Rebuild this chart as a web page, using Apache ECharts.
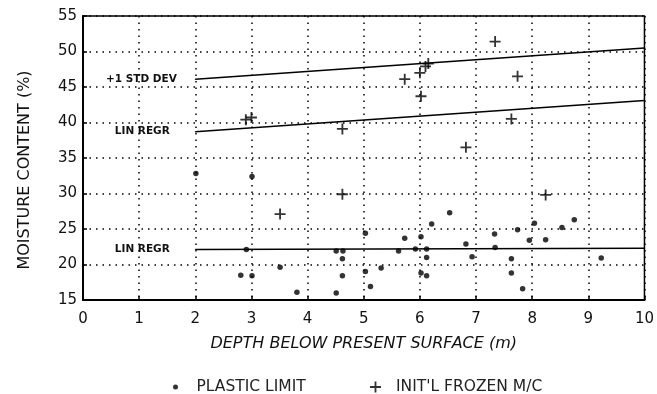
<!DOCTYPE html>
<html>
<head>
<meta charset="utf-8">
<script src="https://cdn.jsdelivr.net/npm/echarts@6/dist/echarts.min.js"></script>
<style>
  html, body { margin: 0; background: #fff; }
  #chart { width: 657px; height: 394px; }
</style>
</head>
<body>
<div id="chart"></div>
<script>
// depth (m), moisture content (%)
const plasticLimit = [
  [2.01, 32.8], [3.01, 32.4], [2.91, 22.1], [2.81, 18.5], [3.01, 18.4],
  [3.51, 19.6], [3.81, 16.1], [4.51, 16.0], [4.51, 21.9], [4.63, 21.9],
  [4.62, 20.8], [4.62, 18.4], [5.03, 24.4], [5.03, 19.0], [5.12, 16.9],
  [5.31, 19.5], [5.62, 21.9], [5.73, 23.7], [5.92, 22.2], [6.02, 23.9],
  [6.02, 18.8], [6.12, 22.2], [6.12, 21.0], [6.12, 18.4], [6.21, 25.7],
  [6.53, 27.3], [6.82, 22.9], [6.93, 21.1], [7.33, 24.3], [7.34, 22.4],
  [7.63, 20.8], [7.63, 18.8], [7.74, 24.9], [7.83, 16.6], [7.95, 23.4],
  [8.04, 25.8], [8.24, 23.5], [8.53, 25.2], [8.75, 26.3], [9.23, 20.9]
];
const frozenMC = [
  [2.9, 40.4], [3.0, 40.7], [4.62, 39.1], [7.34, 51.4], [6.0, 47.0],
  [6.1, 47.9], [6.15, 48.3], [5.73, 46.1], [7.74, 46.5], [6.02, 43.7],
  [7.63, 40.5], [6.82, 36.5], [3.51, 27.1], [4.62, 29.9], [8.24, 29.8]
];
const stdDevLine = [[2, 46.1], [10, 50.5]];
const upperRegr = [[2, 38.7], [10, 43.1]];
const lowerRegr = [[2, 22.1], [10, 22.3]];
const xTicks = [0, 1, 2, 3, 4, 5, 6, 7, 8, 9, 10];
const yTicks = [15, 20, 25, 30, 35, 40, 45, 50, 55];

const FONT = 'DejaVu Sans';
const plusIcon = 'path://M5,0H7V5H12V7H7V12H5V7H0V5H5Z';
const labelFont = { color: '#111', fontFamily: FONT, fontWeight: 'bold', fontSize: 10.5 };

function lineSeries(name, pts, text, dist) {
  return {
    name: name,
    type: 'line',
    data: pts.map((p, i) => i === 0 ? {
      value: p,
      label: Object.assign({ show: true, position: 'left', distance: dist, formatter: text }, labelFont)
    } : p),
    symbol: 'circle',
    symbolSize: 1,
    showSymbol: true,
    itemStyle: { color: '#000' },
    lineStyle: { color: '#000', width: 1.5 },
    silent: true,
    z: 3
  };
}

const chart = echarts.init(document.getElementById('chart'));
chart.setOption({
  animation: false,
  backgroundColor: '#fff',
  textStyle: { fontFamily: FONT },
  grid: { left: 83, right: 11, top: 16, bottom: 94, show: true, borderColor: '#000', borderWidth: 1.5 },
  legend: [
    {
      data: [{ name: 'PLASTIC LIMIT', icon: 'circle' }],
      left: 168, top: 374, itemWidth: 28, itemHeight: 5,
      textStyle: { fontSize: 15.5, color: '#222', padding: [0, 0, 0, 2] }
    },
    {
      data: [{ name: "INIT'L FROZEN M/C", icon: plusIcon }],
      left: 365, top: 374, itemWidth: 11, itemHeight: 11,
      textStyle: { fontSize: 15.5, color: '#222', padding: [0, 0, 0, 10] }
    }
  ],
  xAxis: {
    type: 'value',
    min: xTicks[0], max: xTicks[xTicks.length - 1], interval: 1,
    name: 'DEPTH BELOW PRESENT SURFACE (m)',
    nameLocation: 'middle', nameGap: 36,
    nameTextStyle: { fontSize: 16, fontStyle: 'italic', color: '#111' },
    axisLine: { lineStyle: { color: '#000', width: 2 } },
    axisTick: { inside: true, length: 4, lineStyle: { color: '#000', width: 1.5 } },
    axisLabel: { fontSize: 15, color: '#111', margin: 12 },
    splitLine: { show: true, lineStyle: { color: '#000', type: [1.5, 5], width: 1.5 } }
  },
  yAxis: {
    type: 'value',
    min: yTicks[0], max: yTicks[yTicks.length - 1], interval: 5,
    name: 'MOISTURE CONTENT (%)',
    nameLocation: 'middle', nameGap: 50,
    nameTextStyle: { fontSize: 16, color: '#111', padding: [0, 24, 0, 0] },
    axisLine: { lineStyle: { color: '#000', width: 2 } },
    axisTick: { inside: true, length: 4, lineStyle: { color: '#000', width: 1.5 } },
    axisLabel: { fontSize: 15, color: '#111', margin: 6, padding: [6, 0, 0, 0] },
    splitLine: { show: true, lineStyle: { color: '#000', type: [1.5, 5], width: 1.5 } }
  },
  series: [
    lineSeries('std', stdDevLine, '+1 STD DEV', 18),
    lineSeries('regr1', upperRegr, 'LIN REGR', 25),
    lineSeries('regr2', lowerRegr, 'LIN REGR', 25),
    {
      name: 'PLASTIC LIMIT',
      type: 'scatter',
      data: plasticLimit,
      symbol: 'circle',
      symbolSize: 5.5,
      itemStyle: { color: '#000' },
      z: 4
    },
    {
      name: "INIT'L FROZEN M/C",
      type: 'scatter',
      data: frozenMC,
      symbol: plusIcon,
      symbolSize: 11,
      itemStyle: { color: '#000' },
      z: 4
    }
  ]
});
</script>
</body>
</html>
